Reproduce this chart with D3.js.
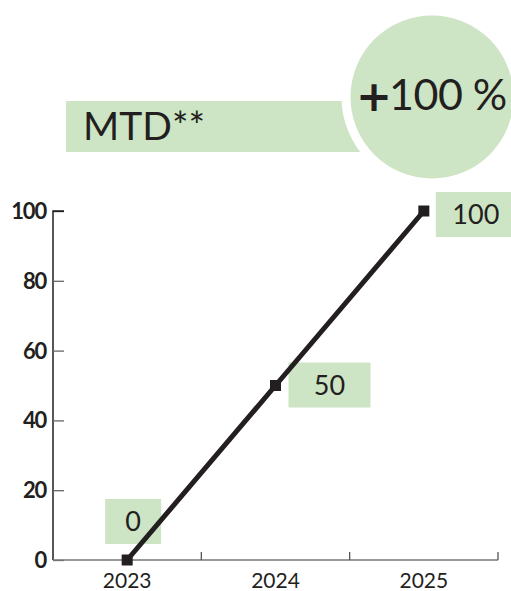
<!DOCTYPE html>
<html>
<head>
<meta charset="utf-8">
<script src="https://cdn.jsdelivr.net/npm/d3@7"></script>
<style>
  html, body { margin: 0; padding: 0; background: #fff; }
  svg { display: block; }
</style>
</head>
<body>
<svg id="chart" width="511" height="591"></svg>
<script>
// Series data
const years = ["2023", "2024", "2025"];
const mtdValues = [0, 50, 100];
const yTicks = [0, 20, 40, 60, 80, 100];
const title = "MTD**";
const growthLabel = "100 %";

const ink = "#231f20";
const green = "#cde5c4";
const font = "Lato, 'Open Sans', sans-serif";

const svg = d3.select("#chart");
const margin = { left: 53, right: 13, top: 211, bottom: 31 };
const W = 511, H = 591;

const x = d3.scaleBand().domain(years).range([margin.left, W - margin.right]);
const y = d3.scaleLinear().domain([0, 100]).range([H - margin.bottom, margin.top]);

// Header: title band and growth bubble
svg.append("rect")
  .attr("x", 66).attr("y", 101).attr("width", 300).attr("height", 51)
  .attr("fill", green);
svg.append("text")
  .attr("x", 83).attr("y", 140)
  .attr("font-family", font).attr("font-size", 39).attr("fill", ink)
  .text(title);

svg.append("circle")
  .attr("cx", 432).attr("cy", 97).attr("r", 86)
  .attr("fill", green).attr("stroke", "#fff").attr("stroke-width", 9);

const growth = svg.append("text")
  .attr("x", 356).attr("y", 110)
  .attr("font-family", font).attr("font-size", 43).attr("fill", ink);
growth.append("tspan")
  .attr("font-family", "'DejaVu Sans', sans-serif").attr("font-weight", 700)
  .attr("font-size", 43).attr("dy", 1).text("+");
growth.append("tspan").attr("dx", -3).attr("dy", -1).attr("letter-spacing", -0.5)
  .attr("font-weight", 400).text(growthLabel);

// Y axis
const yAxis = svg.append("g")
  .attr("transform", `translate(${margin.left},0)`)
  .call(d3.axisRight(y).tickValues(yTicks).tickSize(11).tickFormat(""));
yAxis.select(".domain").attr("stroke", ink).attr("stroke-width", 1.5)
  .attr("d", `M11,${y(100)}H0V${y(0)}`);
yAxis.selectAll(".tick line").attr("stroke", "#666").attr("stroke-width", 1.3);
yAxis.selectAll(".tick").filter(d => d === 100).select("line").attr("stroke", ink);

svg.append("g").selectAll("text")
  .data(yTicks)
  .join("text")
  .attr("x", 46).attr("y", d => y(d) + 8)
  .attr("text-anchor", "end")
  .attr("font-family", font).attr("font-weight", 700).attr("font-size", 22)
  .attr("letter-spacing", -1.2).attr("fill", ink)
  .text(d => d);

// X axis: baseline with boundary ticks between years
const xAxisY = y(0);
svg.append("line")
  .attr("x1", margin.left).attr("x2", W - margin.right)
  .attr("y1", xAxisY).attr("y2", xAxisY)
  .attr("stroke", "#777").attr("stroke-width", 1.5);
svg.append("g").selectAll("line")
  .data(years.slice(1).concat(["end"]))
  .join("line")
  .attr("x1", (d, i) => i < years.length - 1 ? x(years[i + 1]) : x(years[i]) + x.bandwidth())
  .attr("x2", (d, i) => i < years.length - 1 ? x(years[i + 1]) : x(years[i]) + x.bandwidth())
  .attr("y1", xAxisY - 8).attr("y2", xAxisY)
  .attr("stroke", "#555").attr("stroke-width", 1.3);

svg.append("g").selectAll("text")
  .data(years)
  .join("text")
  .attr("x", d => x(d) + x.bandwidth() / 2)
  .attr("y", H - 3)
  .attr("text-anchor", "middle")
  .attr("font-family", font).attr("font-size", 21).attr("fill", ink)
  .text(d => d);

// Line and markers
const pts = years.map((d, i) => ({ year: d, value: mtdValues[i] }));
const cx = d => x(d.year) + x.bandwidth() / 2;

// Value label boxes (drawn under the line)
const labelBoxes = [
  { dx: -22, dy: -61, w: 56 },
  { dx: 13, dy: -23, w: 82 },
  { dx: 12, dy: -19, w: 80 }
];
const labels = svg.append("g").selectAll("g")
  .data(pts)
  .join("g")
  .attr("transform", (d, i) => `translate(${cx(d) + labelBoxes[i].dx},${y(d.value) + labelBoxes[i].dy})`);
labels.append("rect")
  .attr("width", (d, i) => labelBoxes[i].w).attr("height", 45)
  .attr("fill", green);
labels.append("text")
  .attr("x", (d, i) => labelBoxes[i].w / 2).attr("y", 32)
  .attr("text-anchor", "middle")
  .attr("font-family", font).attr("font-size", 27).attr("fill", ink)
  .text(d => d.value);

svg.append("path")
  .datum(pts)
  .attr("fill", "none").attr("stroke", ink).attr("stroke-width", 5)
  .attr("d", d3.line().x(cx).y(d => y(d.value)));

svg.append("g").selectAll("rect")
  .data(pts)
  .join("rect")
  .attr("x", d => cx(d) - 5.5).attr("y", d => y(d.value) - 5.5)
  .attr("width", 11).attr("height", 11)
  .attr("fill", ink);
</script>
</body>
</html>
